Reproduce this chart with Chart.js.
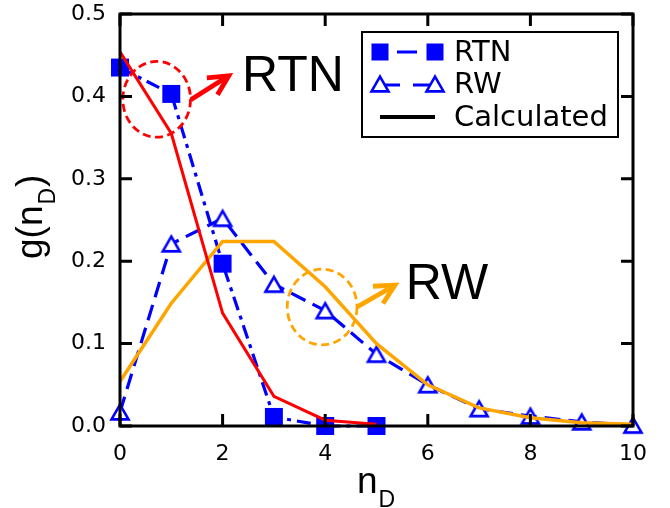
<!DOCTYPE html>
<html>
<head>
<meta charset="utf-8">
<script src="https://cdn.jsdelivr.net/npm/chart.js@4/dist/chart.umd.min.js"></script>
<style>
  html, body { margin: 0; padding: 0; background: #ffffff; }
  #wrap { width: 670px; height: 508px; }
</style>
</head>
<body>
<div id="wrap"><canvas id="c" width="670" height="508"></canvas></div>
<script>
// Number of defects n_D and the distribution g(n_D)
const nD = [0, 1, 2, 3, 4, 5, 6, 7, 8, 9, 10];
const rtnMeasured   = [0.435, 0.403, 0.197, 0.011, 0.000, 0.000];
const rwMeasured    = [0.017, 0.221, 0.252, 0.172, 0.140, 0.087, 0.050, 0.021, 0.012, 0.005, 0.001];
const rtnCalculated = [0.454, 0.355, 0.137, 0.036, 0.007, 0.002];
const rwCalculated  = [0.054, 0.149, 0.224, 0.224, 0.169, 0.100, 0.050, 0.022, 0.010, 0.004, 0.002];
const xTicks = [0, 2, 4, 6, 8, 10];
const yTicks = [0.0, 0.1, 0.2, 0.3, 0.4, 0.5];
const seriesLabels = ['RTN', 'RW', 'Calculated'];

const BLUE = '#0000ff';
const RED = '#ff0000';
const ORANGE = '#ffa500';

const toPoints = ys => ys.map((y, i) => ({ x: nD[i], y: y }));

// Hollow triangle marker, centred on its bounding box
function triangleMarker(side, lw) {
  const c = document.createElement('canvas');
  c.width = 30; c.height = 30;
  const g = c.getContext('2d');
  const h = side * Math.sqrt(3) / 2;
  g.beginPath();
  g.moveTo(15, 15 - h / 2);
  g.lineTo(15 - side / 2, 15 + h / 2);
  g.lineTo(15 + side / 2, 15 + h / 2);
  g.closePath();
  g.fillStyle = '#ffffff';
  g.fill();
  g.lineWidth = lw;
  g.lineJoin = 'miter';
  g.strokeStyle = BLUE;
  g.stroke();
  return c;
}
const TRI = triangleMarker(17, 2.6);

// Frame, inward ticks, annotations, legend and axis titles
const decorations = {
  id: 'decorations',
  afterDatasetsDraw(chart) {
    const ctx = chart.ctx;
    const a = chart.chartArea;
    const xs = chart.scales.x, ys = chart.scales.y;
    const X = v => xs.getPixelForValue(v);
    const Y = v => ys.getPixelForValue(v);

    ctx.save();

    // dashed ellipses
    function ellipse(cx, cy, rx, ry, color) {
      ctx.save();
      ctx.beginPath();
      ctx.ellipse(X(cx), Y(cy), Math.abs(X(cx + rx) - X(cx)), Math.abs(Y(cy + ry) - Y(cy)), 0, 0, Math.PI * 2);
      ctx.setLineDash([8, 4.5]);
      ctx.lineWidth = 2.8;
      ctx.strokeStyle = color;
      ctx.stroke();
      ctx.restore();
    }
    function arrow(x0, y0, x1, y1, color) {
      const px0 = X(x0), py0 = Y(y0), px1 = X(x1), py1 = Y(y1);
      const ang = Math.atan2(py1 - py0, px1 - px0);
      const L = 22, spread = 27 * Math.PI / 180;
      ctx.save();
      ctx.strokeStyle = color;
      ctx.lineWidth = 4.8;
      ctx.lineCap = 'butt';
      ctx.lineJoin = 'miter';
      ctx.beginPath();
      ctx.moveTo(px0, py0);
      ctx.lineTo(px1, py1);
      ctx.stroke();
      ctx.beginPath();
      ctx.moveTo(px1 - L * Math.cos(ang - spread), py1 - L * Math.sin(ang - spread));
      ctx.lineTo(px1, py1);
      ctx.lineTo(px1 - L * Math.cos(ang + spread), py1 - L * Math.sin(ang + spread));
      ctx.stroke();
      ctx.restore();
    }
    ellipse(0.715, 0.3965, 0.66, 0.046, RED);
    arrow(1.38, 0.396, 2.12, 0.425, RED);
    ellipse(3.94, 0.1444, 0.68, 0.046, ORANGE);
    arrow(4.62, 0.1444, 5.36, 0.171, ORANGE);

    ctx.fillStyle = '#000000';
    ctx.font = '50px "Liberation Sans", Arial, sans-serif';
    ctx.textAlign = 'left';
    ctx.textBaseline = 'alphabetic';
    ctx.fillText('RTN', X(2.38), Y(0.4066));
    ctx.fillText('RW', X(5.57), Y(0.154));

    // frame
    ctx.strokeStyle = '#000000';
    ctx.lineWidth = 3;
    ctx.strokeRect(a.left, a.top, a.right - a.left, a.bottom - a.top);

    // inward major ticks on all four sides
    const T = 12;
    ctx.lineWidth = 3;
    ctx.beginPath();
    xTicks.forEach(v => {
      const px = X(v);
      ctx.moveTo(px, a.bottom); ctx.lineTo(px, a.bottom - T);
      ctx.moveTo(px, a.top); ctx.lineTo(px, a.top + T);
    });
    yTicks.forEach(v => {
      const py = Y(v);
      ctx.moveTo(a.left, py); ctx.lineTo(a.left + T, py);
      ctx.moveTo(a.right, py); ctx.lineTo(a.right - T, py);
    });
    ctx.stroke();

    // legend
    const lx = 362, ly = 32, lw = 256, lh = 105;
    ctx.fillStyle = '#ffffff';
    ctx.fillRect(lx, ly, lw, lh);
    ctx.strokeStyle = '#000000';
    ctx.lineWidth = 2;
    ctx.strokeRect(lx, ly, lw, lh);

    const rows = [52, 84, 117];
    const s0 = 380, s1 = 435;
    // RTN row: square - dash - square
    ctx.strokeStyle = BLUE;
    ctx.lineWidth = 3;
    ctx.setLineDash([]);
    ctx.beginPath();
    ctx.moveTo(397, rows[0]); ctx.lineTo(417, rows[0]);
    ctx.stroke();
    ctx.fillStyle = BLUE;
    ctx.fillRect(s0 - 8.5, rows[0] - 8.5, 17, 17);
    ctx.fillRect(s1 - 8.5, rows[0] - 8.5, 17, 17);
    // RW row: triangle - dashes - triangle
    ctx.beginPath();
    ctx.moveTo(s0 + 4, rows[1] + 1); ctx.lineTo(400, rows[1] + 1);
    ctx.moveTo(413, rows[1] + 1); ctx.lineTo(s1 - 4, rows[1] + 1);
    ctx.stroke();
    ctx.drawImage(TRI, s0 - 15, rows[1] - 15);
    ctx.drawImage(TRI, s1 - 15, rows[1] - 15);
    // Calculated row
    ctx.strokeStyle = '#000000';
    ctx.lineWidth = 4;
    ctx.beginPath();
    ctx.moveTo(s0, rows[2]); ctx.lineTo(s1, rows[2]);
    ctx.stroke();

    ctx.fillStyle = '#000000';
    ctx.font = '29px "DejaVu Sans", sans-serif';
    ctx.textBaseline = 'middle';
    seriesLabels.forEach((t, i) => ctx.fillText(t, 454, rows[i] + 1));

    // axis titles with subscript
    ctx.textBaseline = 'alphabetic';
    const mainFont = '37px "Liberation Sans", Arial, sans-serif';
    const subFont = '23px "Liberation Sans", Arial, sans-serif';
    // x title: n_D
    ctx.font = mainFont;
    ctx.fillText('n', 357, 493);
    const wn = ctx.measureText('n').width;
    ctx.font = subFont;
    ctx.fillText('D', 357 + wn + 1, 507);
    // y title: g(n_D)
    ctx.save();
    ctx.translate(42, 259);
    ctx.rotate(-Math.PI / 2);
    ctx.font = mainFont;
    ctx.fillText('g(n', 0, 0);
    const w1 = ctx.measureText('g(n').width;
    ctx.font = subFont;
    ctx.fillText('D', w1 + 1, 13);
    const wD = ctx.measureText('D').width;
    ctx.font = mainFont;
    ctx.fillText(')', w1 + wD + 2, 0);
    ctx.restore();

    ctx.restore();
  }
};

new Chart(document.getElementById('c'), {
  type: 'line',
  data: {
    datasets: [
      {
        label: 'RTN calculated',
        data: toPoints(rtnCalculated),
        borderColor: RED,
        borderWidth: 3,
        pointRadius: 0,
        tension: 0,
        order: 1,
        clip: false
      },
      {
        label: 'RW calculated',
        data: toPoints(rwCalculated),
        borderColor: ORANGE,
        borderWidth: 3.5,
        pointRadius: 0,
        tension: 0,
        order: 1,
        clip: false
      },
      {
        label: seriesLabels[0],
        data: toPoints(rtnMeasured),
        borderColor: BLUE,
        borderWidth: 3.2,
        borderDash: [14, 6, 4, 6],
        pointStyle: 'rect',
        pointRadius: 12.7,
        pointBackgroundColor: BLUE,
        pointBorderWidth: 0,
        tension: 0,
        order: 2,
        clip: false
      },
      {
        label: seriesLabels[1],
        data: toPoints(rwMeasured),
        borderColor: BLUE,
        borderWidth: 3.2,
        borderDash: [16, 8],
        pointStyle: TRI,
        pointRadius: 10,
        tension: 0,
        order: 2,
        clip: false
      }
    ]
  },
  options: {
    responsive: false,
    animation: false,
    devicePixelRatio: 1,
    layout: { padding: { left: 0, right: 37, top: 14, bottom: 0 } },
    plugins: {
      legend: { display: false },
      tooltip: { enabled: false }
    },
    scales: {
      x: {
        type: 'linear',
        min: 0,
        max: 10,
        afterBuildTicks: s => { s.ticks = xTicks.map(v => ({ value: v })); },
        afterFit: s => { s.height = 82; s.paddingLeft = 0; s.paddingRight = 0; },
        grid: { display: false, drawTicks: false },
        border: { display: false },
        ticks: {
          padding: 15,
          color: '#000000',
          font: { family: '"DejaVu Sans", sans-serif', size: 22 },
          callback: v => String(v)
        }
      },
      y: {
        type: 'linear',
        min: 0,
        max: 0.5,
        afterBuildTicks: s => { s.ticks = yTicks.map(v => ({ value: v })); },
        afterFit: s => { s.width = 120; s.paddingTop = 0; s.paddingBottom = 0; },
        grid: { display: false, drawTicks: false },
        border: { display: false },
        ticks: {
          padding: 14,
          color: '#000000',
          font: { family: '"DejaVu Sans", sans-serif', size: 22 },
          callback: v => Number(v).toFixed(1)
        }
      }
    }
  },
  plugins: [decorations]
});
</script>
</body>
</html>
